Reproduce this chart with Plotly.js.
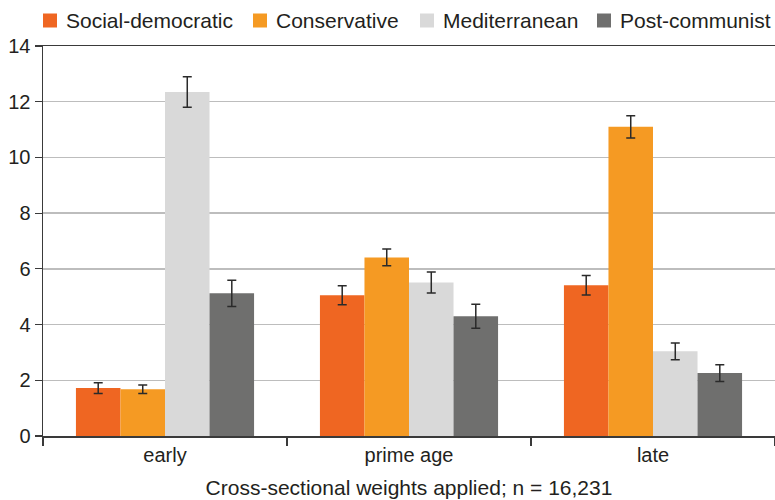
<!DOCTYPE html>
<html>
<head>
<meta charset="utf-8">
<script src="https://cdn.plot.ly/plotly-3.0.1.min.js"></script>
<style>html,body{margin:0;padding:0;background:#fff;}#chart{width:775px;height:500px;}</style>
</head>
<body>
<div id="chart"></div>
<script>
const categories = ["early", "prime age", "late"];
const seriesNames = ["Social-democratic", "Conservative", "Mediterranean", "Post-communist"];
const socialDemocratic = [1.72, 5.05, 5.41];
const socialDemocraticErr = [0.19, 0.34, 0.35];
const conservative = [1.68, 6.41, 11.10];
const conservativeErr = [0.15, 0.30, 0.40];
const mediterranean = [12.35, 5.51, 3.04];
const mediterraneanErr = [0.55, 0.38, 0.30];
const postCommunist = [5.12, 4.30, 2.26];
const postCommunistErr = [0.47, 0.43, 0.30];
const yTicks = [0, 2, 4, 6, 8, 10, 12, 14];
const footnote = "Cross-sectional weights applied; n = 16,231";

const colors = ["#ef6622", "#f59a23", "#d9d9d9", "#6f6f6e"];
const values = [socialDemocratic, conservative, mediterranean, postCommunist];
const errors = [socialDemocraticErr, conservativeErr, mediterraneanErr, postCommunistErr];
const FONT = "'Liberation Sans', Arial, Helvetica, sans-serif";
const TEXT = "#231f20";

// plot-area geometry (pixels) used to place the hand-made legend
const M = {l: 43, r: 0, t: 46, b: 64};
const PW = 775 - M.l - M.r, PH = 500 - M.t - M.b;
const px2x = p => (p - M.l) / PW;
const py2y = p => (500 - M.b - p) / PH;
const legendTextLeft = [65, 275, 442, 619];
const legendMidY = 20.5, sq = 14, sqGap = 8;

const traces = seriesNames.map((name, i) => ({
  type: "bar",
  name: name,
  x: categories,
  y: values[i],
  marker: {color: colors[i], line: {width: 0}},
  error_y: {type: "data", array: errors[i], visible: true, color: "#2a2a2a", thickness: 1.5, width: 4.5},
  hoverinfo: "skip"
}));

const shapes = seriesNames.map((name, i) => ({
  type: "rect", xref: "paper", yref: "paper",
  x0: px2x(legendTextLeft[i] - sqGap - sq), x1: px2x(legendTextLeft[i] - sqGap),
  y0: py2y(legendMidY + sq / 2), y1: py2y(legendMidY - sq / 2),
  fillcolor: colors[i], line: {width: 0}, layer: "above"
}));

const annotations = seriesNames.map((name, i) => ({
  text: name, xref: "paper", yref: "paper",
  x: px2x(legendTextLeft[i] - 1), y: py2y(legendMidY),
  xanchor: "left", yanchor: "middle", showarrow: false,
  font: {family: FONT, size: 21, color: TEXT}
}));

const layout = {
  width: 775,
  height: 500,
  margin: M,
  paper_bgcolor: "#ffffff",
  plot_bgcolor: "#ffffff",
  font: {family: FONT, size: 20, color: TEXT},
  barmode: "group",
  bargap: 0.27,
  bargroupgap: 0,
  showlegend: false,
  shapes: shapes,
  annotations: annotations,
  title: {
    text: footnote,
    font: {family: FONT, size: 21, color: TEXT},
    x: 0.5, xref: "paper", xanchor: "center",
    y: 0.025, yref: "container", yanchor: "middle"
  },
  xaxis: {
    type: "category",
    showgrid: false,
    showline: true,
    linecolor: "#3a3a3a",
    linewidth: 1.5,
    mirror: true,
    ticks: "outside",
    tickson: "boundaries",
    ticklen: 8,
    tickwidth: 1.2,
    tickcolor: "#3a3a3a",
    tickfont: {family: FONT, size: 20, color: TEXT},
    zeroline: false,
    fixedrange: true
  },
  yaxis: {
    range: [0, 14],
    tickvals: yTicks,
    ticktext: yTicks.map(String),
    showgrid: true,
    gridcolor: "#bdbdbd",
    gridwidth: 1.3,
    showline: true,
    linecolor: "#3a3a3a",
    linewidth: 1.5,
    ticks: "outside",
    ticklen: 7,
    tickwidth: 1.2,
    tickcolor: "#3a3a3a",
    tickfont: {family: FONT, size: 20, color: TEXT},
    zeroline: false,
    fixedrange: true
  }
};

Plotly.newPlot("chart", traces, layout, {displayModeBar: false, staticPlot: true});
</script>
</body>
</html>
